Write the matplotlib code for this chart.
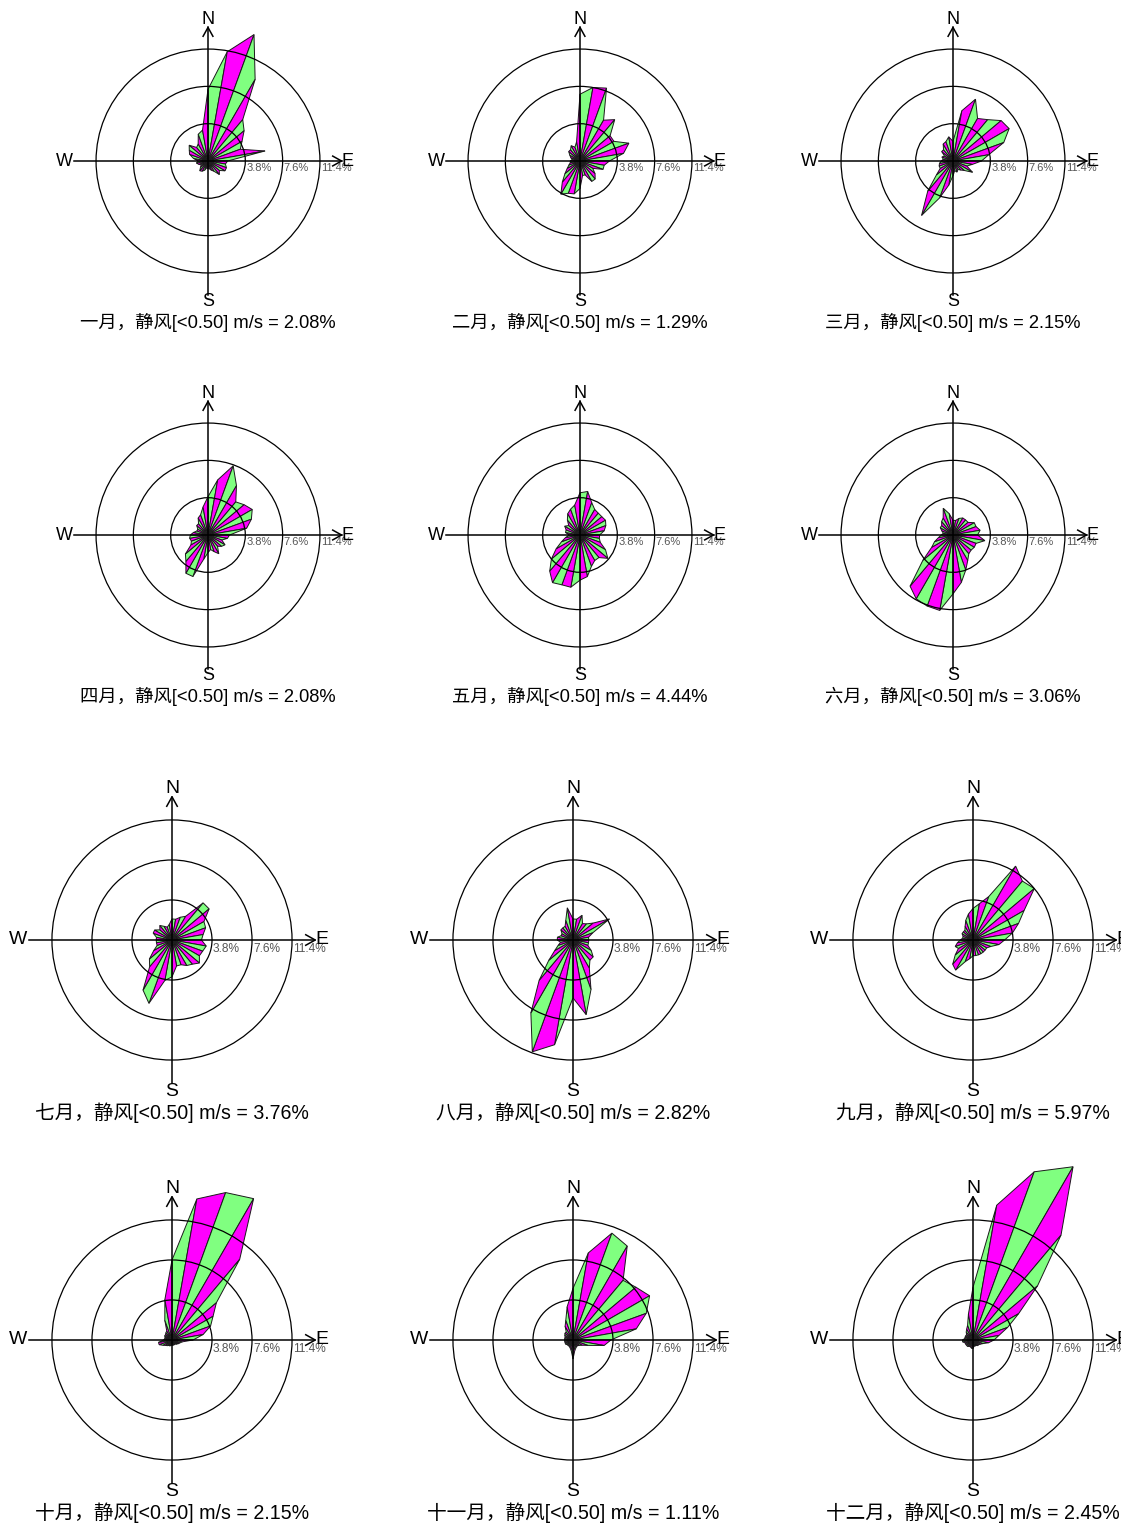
import numpy as np
import matplotlib
matplotlib.use('Agg')
import matplotlib.pyplot as plt
from matplotlib.patches import Polygon, Circle

# ---------------- data (frequency %, 36 directions, from N clockwise, 10 deg step) ----------------
months = ['一月', '二月', '三月', '四月', '五月', '六月',
          '七月', '八月', '九月', '十月', '十一月', '十二月']
calm = [2.08, 1.29, 2.15, 2.08, 4.44, 3.06, 3.76, 2.82, 5.97, 2.15, 1.11, 2.45]
ring_levels = [3.8, 7.6, 11.4]
ring_labels = ['3.8%', '7.6%', '11.4%']
compass = ['N', 'S', 'W', 'E']

jan = [7.3, 11.3, 13.7, 9.6, 5.5, 4.8, 4.0, 3.5, 5.9, 2.0, 1.8, 2.0, 2.0, 1.5, 1.8, 1.2, 1.0, 0.8,
       0.8, 0.7, 1.0, 1.2, 1.3, 1.0, 0.8, 1.0, 1.2, 1.0, 1.5, 2.0, 2.2, 2.5, 1.8, 2.0, 2.9, 3.2]
feb = [6.8, 7.6, 7.9, 4.8, 5.5, 4.0, 4.0, 5.3, 4.5, 3.0, 2.5, 2.5, 1.5, 2.0, 2.4, 2.4, 1.5, 1.5,
       2.8, 3.4, 3.5, 3.9, 2.8, 2.0, 1.5, 1.2, 1.0, 1.0, 0.8, 1.0, 1.2, 1.5, 1.5, 1.8, 1.5, 2.0]
mar = [2.0, 5.2, 6.7, 5.0, 5.5, 6.4, 6.6, 5.5, 3.7, 2.9, 2.0, 1.5, 2.3, 1.5, 1.2, 1.0, 1.2, 1.0,
       1.5, 2.5, 4.0, 6.4, 4.0, 2.2, 1.5, 1.5, 1.4, 1.2, 1.0, 1.2, 1.0, 1.5, 1.5, 2.0, 2.1, 2.5]
apr = [3.9, 5.7, 7.5, 5.8, 4.4, 4.8, 5.2, 4.7, 4.0, 2.2, 2.0, 1.5, 2.0, 1.8, 1.5, 2.2, 1.8, 1.5,
       1.8, 2.5, 4.5, 4.5, 3.5, 3.0, 2.0, 1.8, 1.9, 1.8, 1.5, 1.2, 1.2, 1.5, 1.5, 2.0, 2.2, 2.9]
may = [4.3, 4.5, 3.5, 3.0, 2.9, 2.9, 3.0, 2.8, 2.5, 2.0, 2.0, 2.2, 3.0, 3.7, 3.0, 3.0, 3.4, 4.3,
       4.6, 5.4, 5.4, 5.6, 4.8, 3.8, 2.8, 2.0, 1.5, 1.1, 1.5, 1.5, 1.8, 1.5, 2.0, 2.5, 2.8, 3.1]
jun = [1.5, 1.5, 1.8, 2.0, 2.0, 2.0, 2.5, 2.5, 2.8, 2.5, 3.3, 2.5, 2.5, 2.4, 2.5, 3.0, 3.8, 4.9,
       6.0, 7.8, 7.7, 7.5, 6.8, 4.0, 2.5, 2.0, 1.5, 1.2, 1.0, 1.2, 1.5, 1.5, 1.8, 2.0, 2.9, 2.2]
jul = [2.0, 2.0, 2.3, 2.6, 4.6, 4.6, 3.5, 3.4, 3.0, 2.8, 3.3, 3.1, 3.0, 3.4, 3.0, 2.8, 2.5, 2.5,
       3.5, 3.9, 6.4, 5.5, 3.3, 2.8, 2.0, 1.5, 1.5, 1.5, 1.5, 1.9, 1.9, 1.5, 1.8, 1.5, 1.3, 1.5]
aug = [2.0, 2.0, 2.5, 1.8, 2.0, 2.5, 4.0, 2.0, 1.5, 1.5, 1.5, 1.5, 2.0, 2.5, 2.5, 3.1, 5.0, 7.2,
       5.5, 10.1, 11.3, 8.0, 5.0, 3.0, 2.0, 1.5, 1.2, 1.5, 1.5, 1.2, 1.2, 1.5, 1.5, 1.5, 2.0, 3.1]
sep = [3.0, 3.5, 4.4, 8.1, 7.3, 7.6, 5.6, 4.6, 3.8, 3.0, 2.5, 1.8, 1.5, 1.5, 1.5, 1.5, 1.5, 1.5,
       1.5, 1.8, 2.2, 3.3, 3.0, 2.2, 1.6, 1.8, 1.5, 1.2, 1.0, 1.0, 1.2, 1.2, 1.2, 1.5, 2.0, 2.5]
oct_ = [7.6, 13.6, 14.9, 15.5, 10.0, 5.5, 4.5, 3.9, 3.0, 2.0, 1.0, 0.8, 0.7, 0.6, 0.5, 0.5, 0.5, 0.5,
        0.5, 0.5, 0.6, 0.6, 0.7, 0.8, 1.0, 1.3, 1.3, 0.8, 0.7, 0.7, 0.8, 0.8, 0.9, 1.0, 2.0, 3.9]
nov = [4.9, 8.4, 10.8, 10.3, 7.4, 7.8, 8.4, 7.4, 6.1, 3.6, 3.0, 1.5, 1.0, 0.8, 0.7, 0.7, 0.8, 1.0,
       1.8, 1.0, 0.8, 0.7, 0.7, 0.7, 0.8, 0.8, 0.8, 0.8, 0.8, 0.8, 0.9, 1.0, 1.0, 1.5, 2.0, 3.2]
dec = [5.0, 13.0, 17.0, 19.0, 13.0, 8.0, 5.0, 3.5, 2.5, 2.0, 1.5, 1.0, 0.8, 0.7, 0.7, 0.6, 0.6, 0.6,
       0.8, 0.8, 0.7, 0.7, 0.8, 0.8, 0.8, 0.8, 1.0, 1.0, 0.8, 0.8, 0.8, 0.8, 1.0, 1.2, 1.5, 2.5]
freqs = [jan, feb, mar, apr, may, jun, jul, aug, sep, oct_, nov, dec]
directions_deg = np.arange(36) * 10.0

# ---------------- layout ----------------
W, H = 1121, 1523
fig = plt.figure(figsize=(W / 100, H / 100), dpi=100)
row_cy = [161, 535, 940, 1340]
row_cx = [[208, 580, 953], [208, 580, 953], [172, 573, 973], [172, 573, 973]]
row_scale = [9.82, 9.82, 10.53, 10.53]   # pixels per percent
HP = 180  # half size of axes box (px)

GREEN = '#80FF80'
MAGENTA = '#FF00FF'
LATIN_CJK = ['Liberation Sans', 'Noto Sans CJK SC', 'DejaVu Sans']

for k in range(12):
    r, c = divmod(k, 3)
    cx, cy, s = row_cx[r][c], row_cy[r], row_scale[r]
    f = s / 9.82
    ax = fig.add_axes([(cx - HP) / W, 1 - (cy + HP) / H, 2 * HP / W, 2 * HP / H])
    ax.set_xlim(-HP / s, HP / s)
    ax.set_ylim(-HP / s, HP / s)
    ax.axis('off')

    vals = np.array(freqs[k])
    th = np.deg2rad(directions_deg)
    xs = vals * np.sin(th)
    ys = vals * np.cos(th)
    n = len(vals)
    for i in range(n):
        j = (i + 1) % n
        tri = Polygon([(0, 0), (xs[i], ys[i]), (xs[j], ys[j])], closed=True,
                      facecolor=GREEN if i % 2 == 0 else MAGENTA,
                      edgecolor='#1a1a1a', linewidth=0.7, zorder=1, clip_on=False)
        ax.add_patch(tri)

    for lev in ring_levels:
        ax.add_patch(Circle((0, 0), lev, fill=False, edgecolor='black', linewidth=0.9,
                            zorder=3, clip_on=False))

    L = 13.6
    lw = 1.1
    ax.plot([-L, L], [0, 0], color='black', lw=lw, zorder=4, clip_on=False)
    ax.plot([0, 0], [-L, L], color='black', lw=lw, zorder=4, clip_on=False)
    ah, aw = 0.9, 0.5
    ax.plot([-aw, 0, aw], [L - ah, L, L - ah], color='black', lw=lw, zorder=4, clip_on=False)
    ax.plot([L - ah, L, L - ah], [aw, 0, -aw], color='black', lw=lw, zorder=4, clip_on=False)

    fs = 13 * f
    ax.text(0, 14.4, compass[0], ha='center', va='center', fontsize=fs, family=LATIN_CJK, clip_on=False)
    ax.text(0, -14.35, compass[1], ha='center', va='center', fontsize=fs, family=LATIN_CJK, clip_on=False)
    ax.text(-14.65, 0, compass[2], ha='center', va='center', fontsize=fs, family=LATIN_CJK, clip_on=False)
    ax.text(14.25, 0, compass[3], ha='center', va='center', fontsize=fs, family=LATIN_CJK, clip_on=False)

    for lev, lab in zip(ring_levels, ring_labels):
        ax.text(lev + 0.1, -0.25, lab, ha='left', va='top', fontsize=8 * f,
                color='#555555', family=LATIN_CJK, zorder=2, clip_on=False)

    ax.text(0, -16.4, f'{months[k]}，静风[<0.50] m/s = {calm[k]:.2f}%', ha='center', va='center',
            fontsize=13.2 * f, family=LATIN_CJK, clip_on=False)

fig.savefig('out.png', dpi=100)
